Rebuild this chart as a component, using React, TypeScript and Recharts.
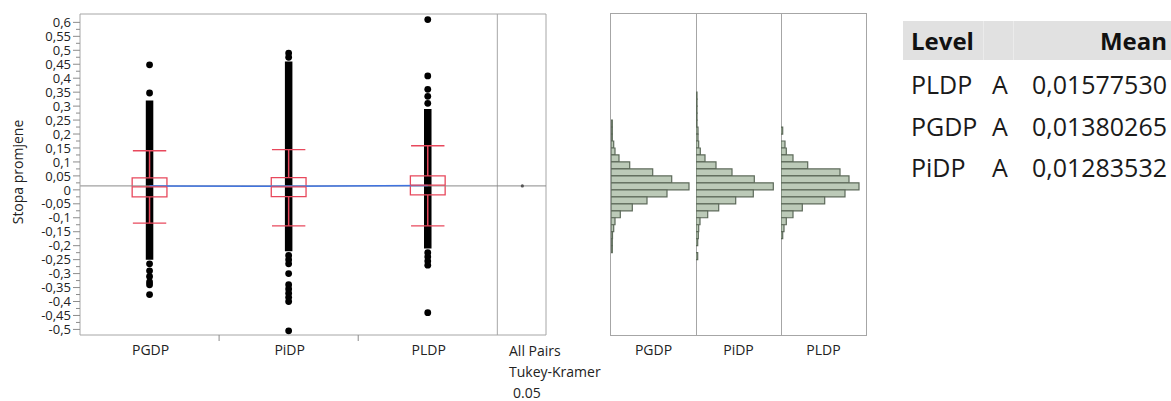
import React from 'react';
import {
  ComposedChart,
  Scatter,
  Line,
  XAxis,
  YAxis,
  ReferenceArea,
  ReferenceLine
} from 'recharts';

// groups and summary values
const groups = ['PGDP', 'PiDP', 'PLDP'];
const means = [0.01380265, 0.01283532, 0.0157753];
const grandMean = 0.0141;
const q1 = [-0.025, -0.024, -0.018];
const medians = [0.011, 0.011, 0.017];
const q3 = [0.043, 0.044, 0.05];
const whiskerLow = [-0.119, -0.129, -0.129];
const whiskerHigh = [0.14, 0.144, 0.158];
// the solid run of overlapping points in each column
const denseLow = [-0.25, -0.22, -0.21];
const denseHigh = [0.32, 0.46, 0.29];
const pgdpPoints = [0.448, 0.347, -0.265, -0.29, -0.31, -0.33, -0.34, -0.375];
const pidpPoints = [0.49, 0.475, -0.235, -0.25, -0.265, -0.3, -0.34, -0.355, -0.37, -0.385, -0.4, -0.505];
const pldpPoints = [0.61, 0.408, 0.36, 0.335, 0.31, -0.225, -0.24, -0.255, -0.27, -0.44];

// histogram bins (lower edge) and bar lengths per group
const binWidth = 0.025;
const binLow = [0.325, 0.3, 0.275, 0.25, 0.225, 0.2, 0.175, 0.15, 0.125, 0.1, 0.075, 0.05, 0.025, 0, -0.025, -0.05, -0.075, -0.1, -0.125, -0.15, -0.175, -0.2, -0.225, -0.25];
const pgdpHist = [0, 0, 0, 0, 1.3, 1.3, 1.3, 2.7, 4, 8, 18.7, 41.7, 60.7, 78, 56, 36, 21.3, 9.3, 4, 2.7, 1.5, 1.3, 1.3, 0];
const pidpHist = [1, 1, 1, 1, 1, 2, 2, 2.7, 4.3, 9, 20, 36, 58.3, 77.3, 57.3, 39.7, 22.7, 11.7, 4, 2.7, 2.3, 1.7, 0, 1.7];
const pldpHist = [0, 0, 0, 0, 0, 1.7, 0, 4, 5.3, 12, 26.7, 59, 68, 78, 64, 43.7, 21.3, 12, 5.3, 3, 1.7, 0, 0, 0];

const levelRows = ['PLDP', 'PGDP', 'PiDP'];
const levelLetters = ['A', 'A', 'A'];
const levelMeans = ['0,01577530', '0,01380265', '0,01283532'];

const majorTicks = [0.6, 0.55, 0.5, 0.45, 0.4, 0.35, 0.3, 0.25, 0.2, 0.15, 0.1, 0.05, 0, -0.05, -0.1, -0.15, -0.2, -0.25, -0.3, -0.35, -0.4, -0.45, -0.5];
const minorTicks = majorTicks.slice(1).map((t, i) => (t + majorTicks[i]) / 2);
const yDomain: [number, number] = [-0.52, 0.63];

const FONT = '"Open Sans", "Noto Sans", sans-serif';
const RED = '#e8485c';
const GRID = '#a6a6a6';

const fmt = (v: number) => String(Math.round(v * 100) / 100).replace('.', ',');

const YTick = (props: any) => {
  const { x, y, payload } = props;
  const major = majorTicks.some((t) => Math.abs(t - payload.value) < 1e-6);
  return (
    <g>
      <line x1={x - (major ? 7 : 4)} x2={x} y1={y} y2={y} stroke="#8c8c8c" />
      {major && (
        <text x={x - 9} y={y} dy="0.36em" textAnchor="end" fontSize={13} fontFamily={FONT} fill="#222">
          {fmt(payload.value)}
        </text>
      )}
    </g>
  );
};

const XTick = (props: any) => {
  const { x, y, payload } = props;
  const v = payload.value;
  if (Number.isInteger(v)) {
    return <line x1={x} x2={x} y1={y} y2={y + 6} stroke="#8c8c8c" />;
  }
  return (
    <text x={x + 1} y={y + 20} textAnchor="middle" fontSize={14} fontFamily={FONT} fill="#222">
      {groups[Math.floor(v)]}
    </text>
  );
};

const dot = (p: any) => <circle cx={p.cx} cy={p.cy} r={3.4} fill="#000" />;

function HistPanel({ counts }: { counts: number[] }) {
  const pts = binLow.map((b, i) => ({ x: counts[i], y: b + binWidth / 2 }));
  return (
    <ComposedChart width={85} height={321} margin={{ top: 0, right: 0, bottom: 0, left: 0 }}>
      <XAxis type="number" dataKey="x" domain={[0, 85]} hide />
      <YAxis type="number" dataKey="y" domain={yDomain} hide />
      <Scatter data={pts} shape={() => <g />} isAnimationActive={false} />
      {binLow.map((b, i) =>
        counts[i] > 0 ? (
          <ReferenceArea
            key={i}
            x1={0}
            x2={counts[i]}
            y1={b}
            y2={b + binWidth}
            fill="#bccab8"
            fillOpacity={1}
            stroke="#5d6a5a"
            strokeWidth={1.2}
            ifOverflow="visible"
          />
        ) : null
      )}
    </ComposedChart>
  );
}

export default function App() {
  const allPoints = [pgdpPoints, pidpPoints, pldpPoints].flatMap((arr, g) =>
    arr.map((v) => ({ x: g + 0.5, y: v }))
  );
  const meanLine = means.map((m, g) => ({ x: g + 0.5, y: m }));
  const allTicks = [...majorTicks, ...minorTicks].sort((a, b) => b - a);

  return (
    <div style={{ position: 'absolute', left: 0, top: 0, width: 1171, height: 401, background: '#fff', fontFamily: FONT }}>
      <div
        style={{
          position: 'absolute',
          left: 17,
          top: 172,
          transform: 'translate(-50%, -50%) rotate(-90deg)',
          fontSize: 14,
          color: '#222',
          whiteSpace: 'nowrap'
        }}
      >
        Stopa promjene
      </div>

      <div style={{ position: 'absolute', left: 0, top: 0 }}>
        <ComposedChart width={560} height={400} margin={{ top: 14, right: 14, bottom: 25, left: 20 }}>
          <XAxis
            type="number"
            dataKey="x"
            domain={[0, 3.35]}
            ticks={[0.5, 1, 1.5, 2, 2.5]}
            interval={0}
            height={40}
            tickSize={0}
            tickMargin={0}
            tickLine={false}
            tick={<XTick />}
            stroke={GRID}
          />
          <YAxis
            type="number"
            dataKey="y"
            domain={yDomain}
            ticks={allTicks}
            interval={0}
            width={60}
            tickSize={0}
            tickMargin={0}
            tickLine={false}
            tick={<YTick />}
            stroke={GRID}
          />
          <ReferenceLine y={yDomain[1]} stroke={GRID} />
          <ReferenceLine x={3.35} stroke={GRID} />
          <ReferenceLine x={3} stroke={GRID} />
          <ReferenceLine y={grandMean} stroke="#8a8a8a" />
          {groups.map((g, i) => (
            <ReferenceArea
              key={'dense' + g}
              x1={i + 0.5 - 0.027}
              x2={i + 0.5 + 0.027}
              y1={denseLow[i]}
              y2={denseHigh[i]}
              fill="#000"
              fillOpacity={1}
              stroke="none"
            />
          ))}
          <Scatter data={allPoints} shape={dot} isAnimationActive={false} />
          <Line
            data={meanLine}
            dataKey="y"
            stroke="#3f73e0"
            strokeWidth={1.5}
            dot={false}
            isAnimationActive={false}
          />
          <Scatter data={[{ x: 3.18, y: grandMean }]} shape={(p: any) => <circle cx={p.cx} cy={p.cy} r={1.6} fill="#555" />} isAnimationActive={false} />
          {groups.map((g, i) => (
            <ReferenceArea
              key={'box' + g}
              x1={i + 0.5 - 0.125}
              x2={i + 0.5 + 0.125}
              y1={q1[i]}
              y2={q3[i]}
              fill="none"
              fillOpacity={0}
              stroke={RED}
              strokeWidth={1.3}
            />
          ))}
          {groups.map((g, i) => (
            <ReferenceLine key={'med' + g} segment={[{ x: i + 0.375, y: medians[i] }, { x: i + 0.625, y: medians[i] }]} stroke={RED} strokeWidth={1.3} />
          ))}
          {groups.map((g, i) => (
            <ReferenceLine key={'wh' + g} segment={[{ x: i + 0.5, y: q3[i] }, { x: i + 0.5, y: whiskerHigh[i] }]} stroke={RED} strokeWidth={1.5} />
          ))}
          {groups.map((g, i) => (
            <ReferenceLine key={'wl' + g} segment={[{ x: i + 0.5, y: q1[i] }, { x: i + 0.5, y: whiskerLow[i] }]} stroke={RED} strokeWidth={1.5} />
          ))}
          {groups.map((g, i) => (
            <ReferenceLine key={'ch' + g} segment={[{ x: i + 0.38, y: whiskerHigh[i] }, { x: i + 0.62, y: whiskerHigh[i] }]} stroke={RED} strokeWidth={1.3} />
          ))}
          {groups.map((g, i) => (
            <ReferenceLine key={'cl' + g} segment={[{ x: i + 0.38, y: whiskerLow[i] }, { x: i + 0.62, y: whiskerLow[i] }]} stroke={RED} strokeWidth={1.3} />
          ))}
        </ComposedChart>
      </div>

      <div style={{ position: 'absolute', left: 509, top: 340, fontSize: 14, color: '#222', lineHeight: '21px' }}>
        <div>All Pairs</div>
        <div>Tukey-Kramer</div>
        <div style={{ paddingLeft: 4 }}>0.05</div>
      </div>

      {/* histograms */}
      <div style={{ position: 'absolute', left: 610, top: 13, width: 257, height: 323, border: `1px solid ${GRID}`, boxSizing: 'border-box' }} />
      <div style={{ position: 'absolute', left: 696, top: 13, width: 1, height: 323, background: GRID }} />
      <div style={{ position: 'absolute', left: 781, top: 13, width: 1, height: 323, background: GRID }} />
      {[pgdpHist, pidpHist, pldpHist].map((h, k) => (
        <div key={k} style={{ position: 'absolute', left: 611 + 85 * k, top: 14 }}>
          <HistPanel counts={h} />
        </div>
      ))}
      {groups.map((g, k) => (
        <div
          key={g}
          style={{ position: 'absolute', left: 611 + 85 * k, top: 340, width: 85, textAlign: 'center', fontSize: 14, color: '#222' }}
        >
          {g}
        </div>
      ))}

      {/* connecting letters report */}
      <div style={{ position: 'absolute', left: 903, top: 21, width: 268, height: 39, background: '#e1e1e1' }} />
      <div style={{ position: 'absolute', left: 983, top: 21, width: 1, height: 39, background: '#ebebeb' }} />
      <div style={{ position: 'absolute', left: 1013, top: 21, width: 1, height: 39, background: '#ebebeb' }} />
      <div style={{ position: 'absolute', left: 911, top: 21, height: 39, lineHeight: '39px', fontSize: 24, fontWeight: 700, color: '#111' }}>
        Level
      </div>
      <div style={{ position: 'absolute', right: 4, top: 21, height: 39, lineHeight: '39px', fontSize: 24, fontWeight: 700, color: '#111' }}>
        Mean
      </div>
      {levelRows.map((r, i) => (
        <React.Fragment key={r}>
          <div style={{ position: 'absolute', left: 911, top: 64 + i * 41.5, lineHeight: '40px', fontSize: 25, color: '#1a1a1a' }}>{r}</div>
          <div style={{ position: 'absolute', left: 992, top: 64 + i * 41.5, lineHeight: '40px', fontSize: 25, color: '#1a1a1a' }}>{levelLetters[i]}</div>
          <div style={{ position: 'absolute', right: 4, top: 64 + i * 41.5, lineHeight: '40px', fontSize: 25, color: '#1a1a1a' }}>{levelMeans[i]}</div>
        </React.Fragment>
      ))}
    </div>
  );
}
